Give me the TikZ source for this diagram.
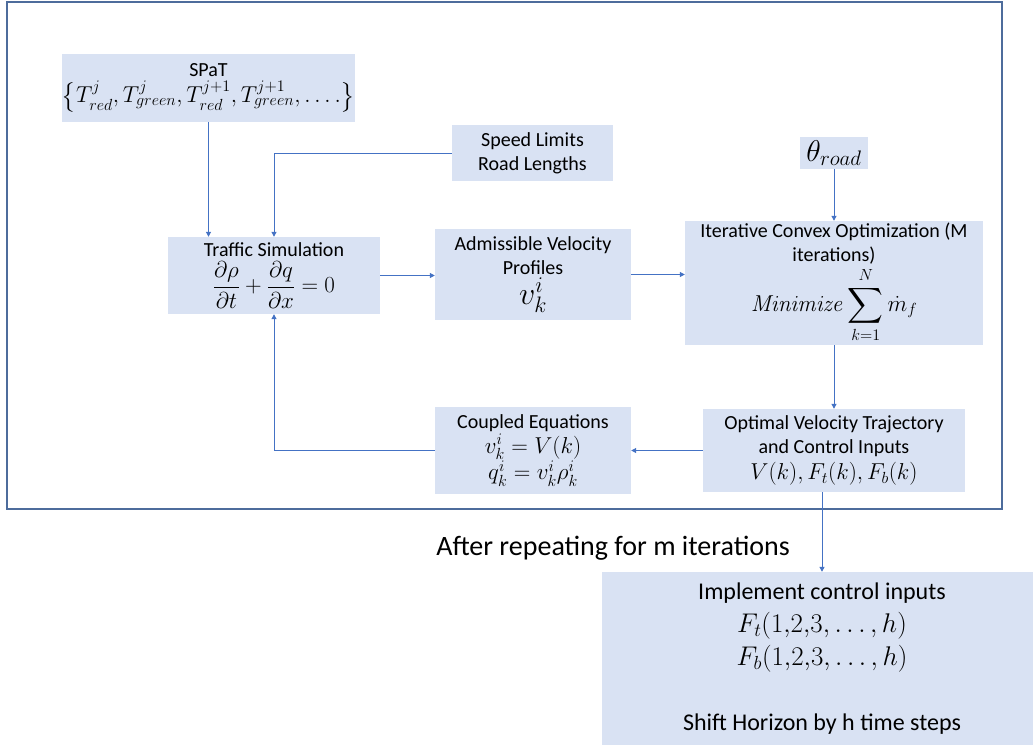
\documentclass[tikz,border=0pt]{standalone}
\usepackage{fix-cm}
\usepackage{amsmath}
\usepackage[no-math]{fontspec}
\setmainfont{Carlito}
\usetikzlibrary{arrows.meta}
\definecolor{boxfill}{HTML}{D9E2F3}
\definecolor{linec}{HTML}{4472C4}
\definecolor{framec}{HTML}{4D6C9C}
\newcommand{\eqsz}[1]{{\fontsize{23}{27}\selectfont$#1$}}
\begin{document}
\begin{tikzpicture}[x=1pt,y=-1pt,
  box/.style={fill=boxfill, draw=none, align=center, inner sep=0pt, font=\fontsize{20}{24}\selectfont},
  conn/.style={draw=linec, line width=1pt, -{Triangle[length=5pt,width=5pt]}}
]
\useasboundingbox (0,0) rectangle (1033,749);
\draw[framec, line width=2pt] (7,2) rectangle (1002,509);

\node[box, minimum width=287pt, minimum height=68pt] (spat) at (208.5,88)
  {SPaT\\[2pt] \eqsz{\left\{T^{j}_{red},T^{j}_{green},T^{j+1}_{red},T^{j+1}_{green},\dots.\right\}}};
\node[box, minimum width=161pt, minimum height=56pt] (speed) at (532.5,153)
  {Speed Limits\\Road Lengths};
\node[box, minimum width=68pt, minimum height=32pt] (theta) at (834,153)
  {{\fontsize{30}{32}\selectfont$\theta_{road}$}};
\node[box, minimum width=212pt, minimum height=77pt] (traffic) at (274,275.5)
  {Traffic Simulation\\[4pt] \eqsz{\displaystyle\frac{\partial\rho}{\partial t}+\frac{\partial q}{\partial x}=0}};
\node[box, minimum width=196pt, minimum height=91pt] (adm) at (533,274.5)
  {Admissible Velocity\\Profiles\\[2pt] {\fontsize{32}{32}\selectfont$v_k^i$}};
\node[box, minimum width=298pt, minimum height=124pt] (opt) at (834,283)
  {Iterative Convex Optimization (M\\iterations)\\[2pt] \eqsz{\mathit{Minimize}\displaystyle\sum_{k=1}^{N}\dot{m}_f}};
\node[box, minimum width=262pt, minimum height=83pt] (optv) at (834,450.5)
  {Optimal Velocity Trajectory\\and Control Inputs\\[2pt] \eqsz{V(k),F_t(k),F_b(k)}};
\node[box, minimum width=196pt, minimum height=87pt] (coup) at (533,450.5)
  {Coupled Equations\\[1pt] \eqsz{v_k^i=V(k)}\\ \eqsz{q_k^i=v_k^i\rho_k^i}};
\node[box, minimum width=440pt, minimum height=173pt, font=\fontsize{24}{33}\selectfont] (bottom) at (822,658.5)
  {Implement control inputs\\ {\fontsize{27}{30}\selectfont$F_t(1{,}2{,}3,\dots,h)$}\\ {\fontsize{27}{30}\selectfont$F_b(1{,}2{,}3,\dots,h)$}\\[32pt] Shift Horizon by h time steps};
\node[font=\fontsize{28}{32}\selectfont, inner sep=0pt] (after) at (613,548) {After repeating for m iterations};

\draw[conn] (spat.south) -- (spat.south |- traffic.north);
\draw[conn] (speed.west) -| (traffic.north);
\draw[conn] (traffic.east) -- (traffic.east -| adm.west);
\draw[conn] (adm.east) -- (adm.east -| opt.west);
\draw[conn] (theta.south) -- (opt.north);
\draw[conn] (opt.south) -- (optv.north);
\draw[conn] (optv.west) -- (optv.west -| coup.east);
\draw[conn] (coup.west) -| (traffic.south);
\draw[conn] (optv.south -| bottom.north) -- (bottom.north);
\end{tikzpicture}
\end{document}
